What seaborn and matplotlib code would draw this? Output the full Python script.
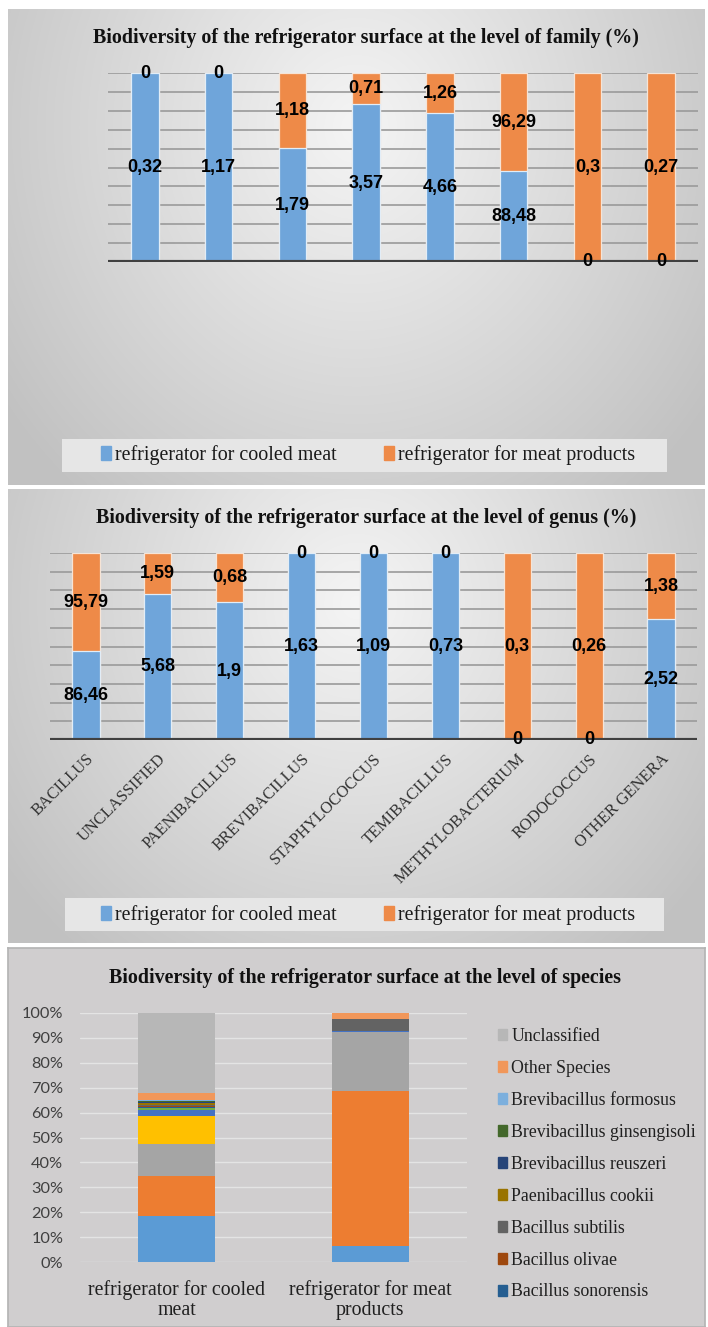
import numpy as np
import matplotlib
matplotlib.use("Agg")
import matplotlib.pyplot as plt
import seaborn as sns
from matplotlib.patches import Rectangle

sns.set_theme(style="white")
plt.rcParams['font.family'] = ['Liberation Serif', 'DejaVu Serif']

# ---------------- data ----------------
series_names = ["refrigerator for cooled meat", "refrigerator for meat products"]

# panel 1 (family level) - category names are not shown in the reference
family_cats = ["fam1", "fam2", "fam3", "fam4", "fam5", "fam6", "fam7", "fam8"]
family_cooled = [0.32, 1.17, 1.79, 3.57, 4.66, 88.48, 0, 0]
family_products = [0, 0, 1.18, 0.71, 1.26, 96.29, 0.3, 0.27]

# panel 2 (genus level)
genus_cats = ["BACILLUS", "UNCLASSIFIED", "PAENIBACILLUS", "BREVIBACILLUS",
              "STAPHYLOCOCCUS", "TEMIBACILLUS", "METHYLOBACTERIUM",
              "RODOCOCCUS", "OTHER GENERA"]
genus_cooled = [86.46, 5.68, 1.9, 1.63, 1.09, 0.73, 0, 0, 2.52]
genus_products = [95.79, 1.59, 0.68, 0, 0, 0, 0.3, 0.26, 1.38]

# panel 3 (species level, %), stacked bottom -> top
species_groups = ["refrigerator for cooled\nmeat", "refrigerator for meat\nproducts"]
species_names = ["Species 1", "Species 2", "Species 3", "Species 4", "Species 5",
                 "Species 6", "Bacillus sonorensis", "Bacillus olivae",
                 "Bacillus subtilis", "Paenibacillus cookii", "Brevibacillus reuszeri",
                 "Brevibacillus ginsengisoli", "Brevibacillus formosus",
                 "Other Species", "Unclassified"]
species_cooled = [18.3, 16.2, 12.8, 11.5, 2.4, 0.55, 0.4, 0.6, 0.5, 0.7, 0.4, 0.35, 0.3, 3.0, 32.0]
species_products = [6.5, 62.0, 24.0, 0, 0.3, 0, 0, 0, 4.7, 0, 0, 0, 0, 2.5, 0]
species_legend = ["Unclassified", "Other Species", "Brevibacillus formosus",
                  "Brevibacillus ginsengisoli", "Brevibacillus reuszeri",
                  "Paenibacillus cookii", "Bacillus subtilis", "Bacillus olivae",
                  "Bacillus sonorensis"]

# ---------------- styles ----------------
BLUE = "#6FA5DA"
ORANGE = "#EE8A48"
species_colors = ["#5B9BD5", "#ED7D31", "#A5A5A5", "#FFC000", "#4472C4", "#70AD47",
                  "#255E91", "#9E480E", "#636363", "#997300", "#264478", "#43682B",
                  "#7CAFDD", "#F1975A", "#B7B7B7"]
color_of = dict(zip(species_names, species_colors))

W, H = 708, 1327
fig = plt.figure(figsize=(W / 100, H / 100), dpi=100)
fig.patch.set_facecolor("white")


def px_axes(x0, y0, x1, y1, z=1):
    return fig.add_axes([x0 / W, 1 - y1 / H, (x1 - x0) / W, (y1 - y0) / H], zorder=z)


def gradient_panel(x0, y0, x1, y1):
    ax = px_axes(x0, y0, x1, y1, z=0)
    ny, nx = 200, 300
    yy, xx = np.mgrid[0:1:ny * 1j, 0:1:nx * 1j]
    d = np.sqrt(((xx - 0.5) / 0.62) ** 2 + ((yy - 0.25) / 1.0) ** 2)
    d = np.clip(d, 0, 1)
    light = np.array([0.96, 0.96, 0.96])
    dark = np.array([0.76, 0.76, 0.76])
    img = light[None, None, :] * (1 - d[..., None]) + dark[None, None, :] * d[..., None]
    ax.imshow(img, extent=[0, 1, 1, 0], aspect="auto", interpolation="bilinear")
    ax.set_xlim(0, 1)
    ax.set_ylim(1, 0)
    ax.axis("off")
    return ax


def fmt(v):
    return f"{v:g}".replace(".", ",")


LABEL_FONT = ["Liberation Sans Narrow", "Liberation Sans"]


def stacked_percent(ax, cats, cooled, products, width):
    tot = [a + b for a, b in zip(cooled, products)]
    blue_share = [100 * a / t for a, t in zip(cooled, tot)]
    top_share = [100 * (a + b) / t for a, b, t in zip(cooled, products, tot)]
    for v in range(10, 101, 10):
        ax.axhline(v, color="#9a9a9a", lw=1.2, zorder=0)
    sns.barplot(x=cats, y=top_share, order=cats, color=ORANGE, saturation=1,
                width=width, errorbar=None, ax=ax, edgecolor="#f6e4d6", linewidth=0.9, zorder=2)
    sns.barplot(x=cats, y=blue_share, order=cats, color=BLUE, saturation=1,
                width=width, errorbar=None, ax=ax, edgecolor="#e2edf7", linewidth=0.9, zorder=3)
    ax.axhline(0, color="#404040", lw=3, zorder=4)
    for i, (a, b) in enumerate(zip(cooled, products)):
        bs = blue_share[i]
        os_ = top_share[i] - bs
        ax.text(i, bs / 2, fmt(a), ha="center", va="center", fontsize=13,
                fontweight="bold", family=LABEL_FONT, color="black", zorder=5)
        ax.text(i, bs + os_ / 2, fmt(b), ha="center", va="center", fontsize=13,
                fontweight="bold", family=LABEL_FONT, color="black", zorder=5)
    ax.set_ylim(0, 100)
    ax.set_xlim(-0.5, len(cats) - 0.5)
    ax.set_facecolor("none")
    ax.set_ylabel("")
    ax.set_xlabel("")
    ax.set_yticks([])
    for s in ax.spines.values():
        s.set_visible(False)


def two_legend(cx, cy):
    handles = [Rectangle((0, 0), 1, 1, color=BLUE), Rectangle((0, 0), 1, 1, color=ORANGE)]
    leg = fig.legend(handles, series_names, loc="center", bbox_to_anchor=(cx / W, 1 - cy / H),
                     ncol=2, frameon=False, fontsize=14.4, handlelength=0.5, handleheight=0.65,
                     handletextpad=0.2, columnspacing=2.4, labelcolor="#1a1a1a")
    leg.set_zorder(10)
    return leg


# ---------------- panel backgrounds ----------------
bg1 = gradient_panel(8, 9, 705, 485)
bg2 = gradient_panel(8, 489, 705, 943)
bg3 = px_axes(8, 948, 705, 1327, z=0)
bg3.set_facecolor("#d0cecf")
bg3.set_xticks([]); bg3.set_yticks([])
for s in bg3.spines.values():
    s.set_color("#b5b5b5")

# legend boxes (panel 1 & 2)
for (x0, y0, x1, y1) in [(62, 439, 667, 472), (65, 898, 664, 931)]:
    fig.patches.append(Rectangle((x0 / W, 1 - y1 / H), (x1 - x0) / W, (y1 - y0) / H,
                                 transform=fig.transFigure, facecolor="#e6e6e6",
                                 edgecolor="none", zorder=1))

TITLE_KW = dict(ha="center", va="center", fontsize=14.4, fontweight="bold", zorder=10,
                color="#111111")

# ---------------- panel 1 ----------------
ax1 = px_axes(108, 73, 698, 262, z=2)
stacked_percent(ax1, family_cats, family_cooled, family_products, 0.37)
ax1.set_xticks([])
fig.text(366 / W, 1 - 38 / H, "Biodiversity of the refrigerator surface at the level of family (%)",
         **TITLE_KW)
two_legend(368, 455)

# ---------------- panel 2 ----------------
ax2 = px_axes(50, 553, 697, 740, z=2)
stacked_percent(ax2, genus_cats, genus_cooled, genus_products, 0.38)
ax2.set_xticks(range(len(genus_cats)))
ax2.set_xticklabels(genus_cats, rotation=45, ha="right", rotation_mode="anchor",
                    fontsize=11.8, color="#303030")
ax2.tick_params(axis="x", length=0, pad=8)
fig.text(366 / W, 1 - 518 / H, "Biodiversity of the refrigerator surface at the level of genus (%)",
         **TITLE_KW)
two_legend(368, 915)

# ---------------- panel 3 ----------------
ax3 = px_axes(80, 1013, 467, 1262, z=2)
ax3.set_facecolor("none")
for v in range(0, 101, 10):
    ax3.axhline(v, color="#e4e4e4", lw=1.0, zorder=0)
cum_c = np.cumsum(species_cooled)
cum_p = np.cumsum(species_products)
for k in range(len(species_names) - 1, -1, -1):
    sns.barplot(x=species_groups, y=[cum_c[k], cum_p[k]], order=species_groups,
                color=species_colors[k], saturation=1, width=0.4, errorbar=None,
                ax=ax3, linewidth=0, zorder=2)
ax3.set_ylim(0, 100)
ax3.set_xlim(-0.5, 1.5)
ax3.set_yticks(range(0, 101, 10))
ax3.set_yticklabels([f"{v}%" for v in range(0, 101, 10)], family=["Lato", "DejaVu Sans"],
                    fontsize=11.8, color="#404040")
ax3.set_xticks([0, 1])
ax3.set_xticklabels(species_groups, fontsize=14.3, color="#202020", linespacing=1.1)
ax3.tick_params(axis="both", length=0)
ax3.tick_params(axis="y", pad=12)
ax3.tick_params(axis="x", pad=13)
ax3.set_xlabel(""); ax3.set_ylabel("")
for s in ax3.spines.values():
    s.set_visible(False)

fig.text(365 / W, 1 - 978 / H, "Biodiversity of the refrigerator surface at the level of species",
         ha="center", va="center", fontsize=14.4, fontweight="bold", zorder=10, color="#111111")

handles3 = [Rectangle((0, 0), 1, 1, color=color_of[n]) for n in species_legend]
leg3 = fig.legend(handles3, species_legend, loc="upper left",
                  bbox_to_anchor=(482 / W, 1 - 1012 / H), frameon=False, fontsize=12.8,
                  handlelength=0.5, handleheight=0.55, handletextpad=0.25,
                  labelspacing=0.84, labelcolor="#202020")
leg3.set_zorder(10)

fig.savefig("out.png", dpi=100)
